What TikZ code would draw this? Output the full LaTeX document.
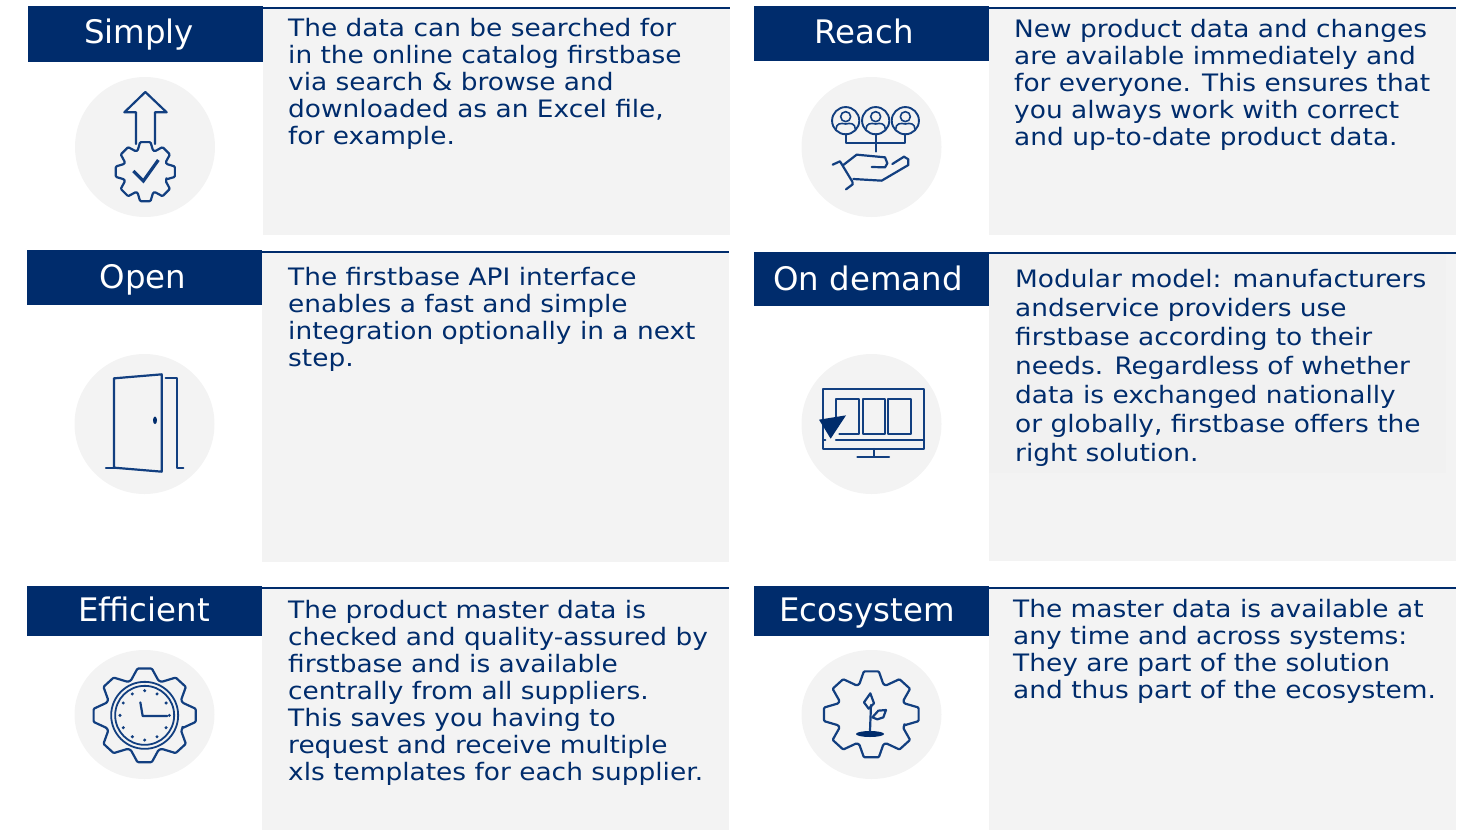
\documentclass[tikz,border=0pt]{standalone}
\usepackage{fontspec}
\setmainfont{DejaVu Sans}
\newfontfamily\widesans[FakeStretch=1.1]{DejaVu Sans}
\usetikzlibrary{shapes.geometric,calc}
\definecolor{gsblue}{HTML}{002C6C}
\definecolor{panelgrey}{HTML}{F3F3F3}
\definecolor{panelinner}{HTML}{F1F1F1}
\definecolor{iconblue}{HTML}{123F80}
\tikzset{
  headbox/.style={fill=gsblue,draw=none,inner sep=0pt,anchor=north west,minimum width=235pt},
  headtext/.style={text=white,font=\fontsize{32.4}{36}\selectfont,inner sep=0pt,anchor=base},
  panelbox/.style={fill=panelgrey,draw=none,inner sep=0pt,anchor=north west},
  toprule/.style={draw=gsblue,line width=2pt},
  bodytext/.style={text=gsblue,inner sep=0pt,anchor=north west,align=left,font=\widesans\fontsize{24}{27}\selectfont},
  disc/.style={ellipse,fill=panelgrey,draw=none,inner sep=0pt},
  iconline/.style={draw=iconblue,line width=2.2pt,line join=round,line cap=round,fill=none},
  iconfill/.style={fill=gsblue,draw=none},
  zoomed/.style={x=0.33333pt,y=-0.33333pt},
}
\newcommand\gearoutline[6]{%
  \draw[iconline,shift={(#1,#2)},rounded corners=1pt] (-#6:#4pt)
    \foreach \a in {0,45,...,315} { -- ({\a-#6}:#4pt) -- ({\a-#5}:#3pt) -- ({\a+#5}:#3pt) -- ({\a+#6}:#4pt) } -- cycle;}
\begin{document}
\begin{tikzpicture}[x=1pt,y=-1pt]
\useasboundingbox (0,0) rectangle (1461,830);
% panels
\node[panelbox,minimum width=467pt,minimum height=227pt] (p1) at (263,8) {};
\node[panelbox,minimum width=467pt,minimum height=227pt] (p2) at (989,8) {};
\node[panelbox,minimum width=467pt,minimum height=310pt] (p3) at (262,252) {};
\node[panelbox,minimum width=467pt,minimum height=308pt] (p4) at (989,253) {};
\node[panelbox,fill=panelinner,minimum width=457pt,minimum height=220pt] (p4i) at (989,253) {};
\node[panelbox,minimum width=467pt,minimum height=242pt] (p5) at (262,588) {};
\node[panelbox,minimum width=467pt,minimum height=242pt] (p6) at (989,588) {};
\foreach \p in {p1,p2,p3,p4,p5,p6} \draw[toprule,yshift=1pt] (\p.north west) -- (\p.north east);
% headers
\node[headbox,minimum height=56pt] (h1) at (28,6) {};
\node[headbox,minimum height=55pt] (h2) at (754,6) {};
\node[headbox,minimum height=55pt] (h3) at (27,250) {};
\node[headbox,minimum height=54pt] (h4) at (754,252) {};
\node[headbox,minimum height=50pt] (h5) at (27,586) {};
\node[headbox,minimum height=50pt] (h6) at (754,586) {};
\node[headtext] (t1) at (139,43) {Simply};
\node[headtext] (t2) at (864,43) {Reach};
\node[headtext] (t3) at (143,288) {Open};
\node[headtext] (t4) at (868,290) {On demand};
\node[headtext] (t5) at (144,621) {Efficient};
\node[headtext] (t6) at (867,621) {Ecosystem};
% body text
\node[bodytext] (b1) at (288,18) {The data can be searched for\\in the online catalog firstbase\\via search \& browse and\\downloaded as an Excel file,\\for example.};
\node[bodytext] (b2) at (1014,19) {New product data and changes\\are available immediately and\\for everyone. This ensures that\\you always work with correct\\and up-to-date product data.};
\node[bodytext] (b3) at (288,267) {The firstbase API interface\\enables a fast and simple\\integration optionally in a next\\step.};
\node[bodytext,font=\widesans\fontsize{24}{29}\selectfont] (b4) at (1015,269) {Modular model: manufacturers\\andservice providers use\\firstbase according to their\\needs. Regardless of whether\\data is exchanged nationally\\or globally, firstbase offers the\\right solution.};
\node[bodytext] (b5) at (288,600) {The product master data is\\checked and quality-assured by\\firstbase and is available\\centrally from all suppliers.\\This saves you having to\\request and receive multiple\\xls templates for each supplier.};
\node[bodytext] (b6) at (1013,599) {The master data is available at\\any time and across systems:\\They are part of the solution\\and thus part of the ecosystem.};
% discs
\node[disc,minimum width=140pt,minimum height=140pt] (c1) at (145,147) {};
\node[disc,minimum width=140pt,minimum height=140pt] (c2) at (871.5,147) {};
\node[disc,minimum width=140pt,minimum height=140pt] (c3) at (144.5,424) {};
\node[disc,minimum width=140pt,minimum height=140pt] (c4) at (871.5,424) {};
\node[disc,minimum width=140pt,minimum height=129pt] (c5) at (144.5,714.5) {};
\node[disc,minimum width=140pt,minimum height=129pt] (c6) at (871.5,714.5) {};
% icon 1: arrow and gear
\begin{scope}[shift={(60,70)},zoomed]
\draw[iconline] (228,222) -- (228,127) -- (193,127) -- (256,66) -- (320,127) -- (285,127) -- (285,222);
\gearoutline{256}{305}{30}{22.5}{10}{20}
\draw[iconline,line width=3.2pt,line cap=butt,line join=miter] (220,303) -- (250,333) -- (295,270);
\end{scope}
% icon 2: people and hand
\begin{scope}[shift={(790,70)},zoomed]
\foreach \cx in {167,257,346} {
  \draw[iconline,line width=1.9pt] (\cx,152) circle[radius=13.6pt];
  \draw[iconline,line width=1.6pt] (\cx,140) circle[radius=5pt];
  \draw[iconline,line width=1.6pt] (\cx-29,178) .. controls (\cx-29,160) and (\cx-14,158) .. (\cx,162) .. controls (\cx+14,158) and (\cx+29,160) .. (\cx+29,178);
}
\draw[iconline,line width=1.9pt] (167,192) -- (167,218) -- (346,218) -- (346,192);
\draw[iconline,line width=1.9pt] (257,192) -- (257,245);
\draw[iconline] (128,284) -- (150,274) -- (187,335) -- (188,343) -- (168,358);
\draw[iconline] (160,285) -- (200,254) -- (285,262) -- (292,280) -- (285,292) -- (245,291);
\draw[iconline] (190,327) -- (275,332) -- (355,285) -- (355,268) -- (342,260) -- (307,282);
\end{scope}
% icon 3: door
\begin{scope}[shift={(60,345)},zoomed]
\draw[iconline] (162,368) -- (162,100) -- (305,88) -- (305,380) -- cycle;
\draw[iconline] (138,370) -- (162,370);
\draw[iconline] (317,99) -- (350,99) -- (350,370) -- (370,370);
\fill[gsblue] (285,226) ellipse[x radius=2pt,y radius=3.8pt];
\end{scope}
% icon 4: monitor
\begin{scope}[shift={(790,345)},zoomed]
\draw[iconline,line cap=butt] (100,133) rectangle (402,312);
\draw[iconline] (138,284) -- (402,284);
\draw[iconline] (100,284) -- (106,284);
\draw[iconline] (148,268) -- (207,268) -- (207,163) -- (138,163) -- (138,215);
\draw[iconline] (218,163) rectangle (286,268);
\draw[iconline] (295,163) rectangle (362,268);
\draw[iconline] (253,312) -- (253,335);
\draw[iconline] (202,335) -- (297,335);
\fill[iconfill] (87,224) -- (168,211) -- (122,281) -- cycle;
\end{scope}
% icon 5: clock gear
\begin{scope}[shift={(60,640)},zoomed]
\begin{scope}[shift={(254,226)},xscale=1.09]
\gearoutline{0}{0}{47.3}{37}{8}{20}
\end{scope}
\draw[iconline,line width=1.8pt] (254,226) circle[radius=33.5pt];
\draw[iconline,line width=1.8pt] (254,226) circle[radius=29.5pt];
\foreach \a in {0,30,...,330} \fill[iconblue] ($(254,226)+(\a:24.7pt)$) circle[radius=1.7pt];
\draw[iconline] (241,187) -- (248,228) -- (322,228);
\end{scope}
% icon 6: plant gear
\begin{scope}[shift={(790,640)},zoomed]
\begin{scope}[shift={(244,223)},xscale=1.1]
\gearoutline{0}{0}{43.5}{32}{9}{20}
\end{scope}
\fill[iconfill] (240,282) ellipse[x radius=14pt,y radius=3pt];
\draw[iconline] (240,272) -- (243,195);
\draw[iconline] (241,160) -- (222,187) -- (236,206) -- (252,190) -- cycle;
\draw[iconline] (247,232) -- (265,212) -- (288,210) -- (280,232) -- (262,238) -- cycle;
\end{scope}
\end{tikzpicture}
\end{document}
